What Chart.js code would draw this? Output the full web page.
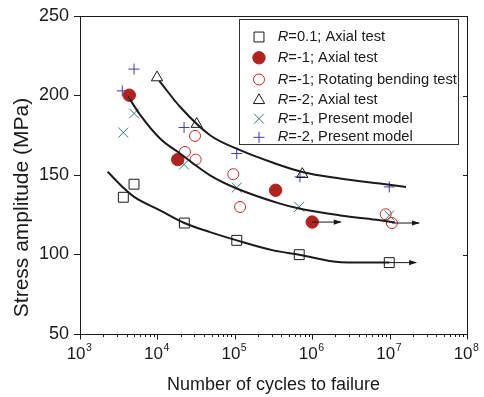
<!DOCTYPE html>
<html>
<head>
<meta charset="utf-8">
<script src="https://cdn.jsdelivr.net/npm/chart.js@4.4.1/dist/chart.umd.min.js"></script>
<style>
  html, body { margin: 0; padding: 0; background: #fff; }
</style>
</head>
<body>
<canvas id="snChart" width="484" height="397"></canvas>
<script>
// S-N curves: stress amplitude vs number of cycles to failure

const FONT = "'Liberation Sans', Arial, sans-serif";
const INK = '#1a1a1a';

// ===== AXES =====
const xTickExps = [3, 4, 5, 6, 7, 8];
const yTicks = [50, 100, 150, 200, 250];

// ===== TEST DATA [cycles, MPa] =====
const r01Axial = [[3630, 136], [4990, 144.2], [22300, 119.8], [106000, 108.9], [680000, 99.9], [9.9e6, 94.9]];
const rm1Axial = [[4330, 200.2], [18300, 159.7], [337000, 140.4], [1.0e6, 120.4]];
const rm1Rotating = [[30600, 174.6], [22700, 164.5], [31200, 159.7], [95600, 150.5], [117000, 129.9], [8.9e6, 125.3], [1.07e7, 119.8]];
const rm2Axial = [[9890, 211.3], [32200, 182], [745000, 150.5]];
const rm1Model = [[3630, 176.7], [4990, 188.7], [22100, 156.6], [106000, 142.1], [680000, 130], [9.9e6, 124.6]];
const rm2Model = [[4990, 216.6], [3520, 202.9], [22100, 179.9], [106000, 163.5], [695000, 148.8], [9.9e6, 142.5]];

// ===== FITTED CURVES =====
const curveR01 = [[2280, 152], [3630, 142], [5000, 136.2], [10800, 127.8], [22300, 119.8], [47900, 114.1],
  [106000, 108.9], [314000, 102.6], [680000, 99.9], [2.35e6, 95.2], [1.0e7, 94.9]];
const curveRm1 = [[4210, 199.2], [5960, 188], [10800, 173], [19600, 163.5], [47900, 149.8], [106000, 141.5],
  [384000, 132], [677000, 128.9], [2.3e6, 124.6], [7.5e6, 121.5], [1.17e7, 120.2]];
const curveRm2 = [[10600, 209.2], [19600, 192.9], [47900, 175], [117000, 165.6], [300000, 158],
  [745000, 151.9], [2.29e6, 147.8], [7.5e6, 144.6], [1.63e7, 142.5]];

// ===== RUN-OUT ARROWS =====
const arrowRm1Axial = [[1.0e6, 120.4], [2.34e6, 120.4]];
const arrowRm1Rotating = [[1.07e7, 119.8], [2.4e7, 119.8]];
const arrowR01 = [[9.9e6, 94.9], [2.2e7, 94.9]];

const legendLabels = ['=0.1; Axial test', '=-1; Axial test', '=-1; Rotating bending test',
  '=-2; Axial test', '=-1, Present model', '=-2, Present model'];

const pts = (arr) => arr.map(([x, y]) => ({ x, y }));

function curve(arr) {
  return {
    data: pts(arr), showLine: true, borderColor: INK, borderWidth: 2,
    pointRadius: 0, cubicInterpolationMode: 'monotone',
  };
}
function arrow(arr) {
  return {
    data: pts(arr), showLine: true, borderColor: INK, borderWidth: 1,
    pointRadius: 0, arrow: true,
  };
}
function marker(arr, label, style, radius, border, fill) {
  return {
    label: label, data: pts(arr), pointStyle: style, pointRadius: radius,
    pointHoverRadius: radius, borderColor: border, backgroundColor: fill,
    pointBorderWidth: 1, borderWidth: 1,
  };
}

// ===== EXTRA DRAWING: frame, ticks, labels, legend =====
const extras = {
  id: 'extras',
  afterDatasetsDraw(chart) {
    const { ctx } = chart;
    ctx.save();
    ctx.fillStyle = INK;
    chart.data.datasets.forEach((ds, i) => {
      if (!ds.arrow) return;
      const meta = chart.getDatasetMeta(i);
      const p = meta.data[meta.data.length - 1];
      ctx.beginPath();
      ctx.moveTo(p.x + 1, p.y);
      ctx.lineTo(p.x - 7, p.y - 2.6);
      ctx.lineTo(p.x - 7, p.y + 2.6);
      ctx.closePath();
      ctx.fill();
    });
    ctx.restore();
  },
  afterDraw(chart) {
    const { ctx, chartArea: ca, scales: { x, y } } = chart;
    ctx.save();
    ctx.strokeStyle = INK;
    ctx.lineWidth = 1;
    ctx.beginPath();
    ctx.moveTo(ca.left, ca.top + 0.5);
    ctx.lineTo(ca.right + 0.5, ca.top + 0.5);
    ctx.moveTo(ca.right + 0.5, ca.top);
    ctx.lineTo(ca.right + 0.5, ca.bottom);
    // log ticks on the bottom axis, pointing outward
    const eMin = xTickExps[0], eMax = xTickExps[xTickExps.length - 1];
    for (let e = eMin; e <= eMax; e++) {
      for (let m = 1; m <= 9; m++) {
        const v = m * Math.pow(10, e);
        if (v > x.max) break;
        const px = Math.round(x.getPixelForValue(v)) + 0.5;
        ctx.moveTo(px, ca.bottom);
        ctx.lineTo(px, ca.bottom + (m === 1 ? 5.5 : 3));
      }
    }
    // right axis ticks inward
    yTicks.forEach((v) => {
      const py = Math.round(y.getPixelForValue(v)) + 0.5;
      ctx.moveTo(ca.right, py);
      ctx.lineTo(ca.right - 4, py);
    });
    ctx.stroke();

    // x tick labels 10^n
    ctx.fillStyle = INK;
    ctx.textAlign = 'left';
    ctx.textBaseline = 'alphabetic';
    xTickExps.forEach((e) => {
      const px = x.getPixelForValue(Math.pow(10, e));
      ctx.font = '17px ' + FONT;
      const w1 = ctx.measureText('10').width;
      ctx.font = '10.5px ' + FONT;
      const w2 = ctx.measureText(String(e)).width;
      const x0 = px - (w1 + w2) / 2 - 1;
      ctx.font = '17px ' + FONT;
      ctx.fillText('10', x0, ca.bottom + 25);
      ctx.font = '10.5px ' + FONT;
      ctx.fillText(String(e), x0 + w1 + 0.5, ca.bottom + 16.5);
    });

    // y axis title
    ctx.save();
    ctx.translate(22.5, ca.top + 191.5);
    ctx.rotate(-Math.PI / 2);
    ctx.textAlign = 'center';
    ctx.textBaseline = 'middle';
    ctx.font = '21px ' + FONT;
    ctx.fillText('Stress amplitude (MPa)', 0, 0);
    ctx.restore();

    // legend box inside the plot
    const box = { left: 239.5, top: 19.5, right: 458.5, bottom: 144.5 };
    const rows = [37, 57.8, 79.5, 100.3, 118.7, 137.3];
    ctx.fillStyle = '#fff';
    ctx.fillRect(box.left, box.top, box.right - box.left, box.bottom - box.top);
    ctx.strokeStyle = '#333';
    ctx.strokeRect(box.left, box.top, box.right - box.left, box.bottom - box.top);
    const markers = chart.data.datasets.filter((ds) => ds.label);
    markers.forEach((ds, i) => {
      const yy = rows[i];
      ctx.strokeStyle = ds.borderColor;
      ctx.fillStyle = ds.backgroundColor;
      ctx.lineWidth = 1;
      Chart.helpers.drawPoint(ctx, {
        pointStyle: ds.pointStyle, rotation: 0, radius: ds.pointRadius, borderWidth: 1,
      }, 259, yy);
      ctx.fillStyle = INK;
      ctx.textBaseline = 'middle';
      ctx.font = 'italic 14.7px ' + FONT;
      ctx.fillText('R', 277.7, yy);
      const wr = ctx.measureText('R').width;
      ctx.font = '14.7px ' + FONT;
      ctx.fillText(legendLabels[i], 277.7 + wr, yy);
    });
    ctx.restore();
  },
};

// ===== BUILD CHART =====
const ctx = document.getElementById('snChart').getContext('2d');
Chart.defaults.font.family = FONT;
Chart.defaults.color = INK;

new Chart(ctx, {
  type: 'scatter',
  data: {
    datasets: [
      curve(curveR01),
      curve(curveRm1),
      curve(curveRm2),
      arrow(arrowRm1Axial),
      arrow(arrowRm1Rotating),
      arrow(arrowR01),
      marker(r01Axial, 'R' + legendLabels[0], 'rect', 7, INK, 'rgba(0,0,0,0)'),
      marker(rm1Axial, 'R' + legendLabels[1], 'circle', 6.2, '#b2221e', '#b2221e'),
      marker(rm1Rotating, 'R' + legendLabels[2], 'circle', 5.5, '#cc2a22', 'rgba(0,0,0,0)'),
      marker(rm2Axial, 'R' + legendLabels[3], 'triangle', 6.5, INK, 'rgba(0,0,0,0)'),
      marker(rm1Model, 'R' + legendLabels[4], 'crossRot', 7, '#3a7d77', 'rgba(0,0,0,0)'),
      marker(rm2Model, 'R' + legendLabels[5], 'cross', 5.5, '#3c3cab', 'rgba(0,0,0,0)'),
    ],
  },
  options: {
    responsive: false,
    animation: false,
    layout: { padding: { top: 16, right: 17, left: 0, bottom: 0 } },
    plugins: { legend: { display: false }, tooltip: { enabled: false } },
    scales: {
      x: {
        type: 'logarithmic',
        min: Math.pow(10, xTickExps[0]),
        max: Math.pow(10, xTickExps[xTickExps.length - 1]),
        grid: { display: false },
        border: { display: true, color: INK, width: 1 },
        ticks: { display: false },
        title: {
          display: true, text: 'Number of cycles to failure',
          font: { size: 18 }, color: INK, padding: { top: 0, bottom: 1.2 },
        },
        afterFit(s) { s.height = 63; },
      },
      y: {
        min: yTicks[0],
        max: yTicks[yTicks.length - 1],
        afterBuildTicks(s) { s.ticks = yTicks.map((v) => ({ value: v })); },
        grid: { drawOnChartArea: false, drawTicks: true, tickLength: 6, tickColor: INK },
        border: { display: true, color: INK, width: 1 },
        ticks: { font: { size: 18 }, color: INK, padding: 5 },
        afterFit(s) { s.width = 80; },
      },
    },
  },
  plugins: [extras],
});
</script>
</body>
</html>
